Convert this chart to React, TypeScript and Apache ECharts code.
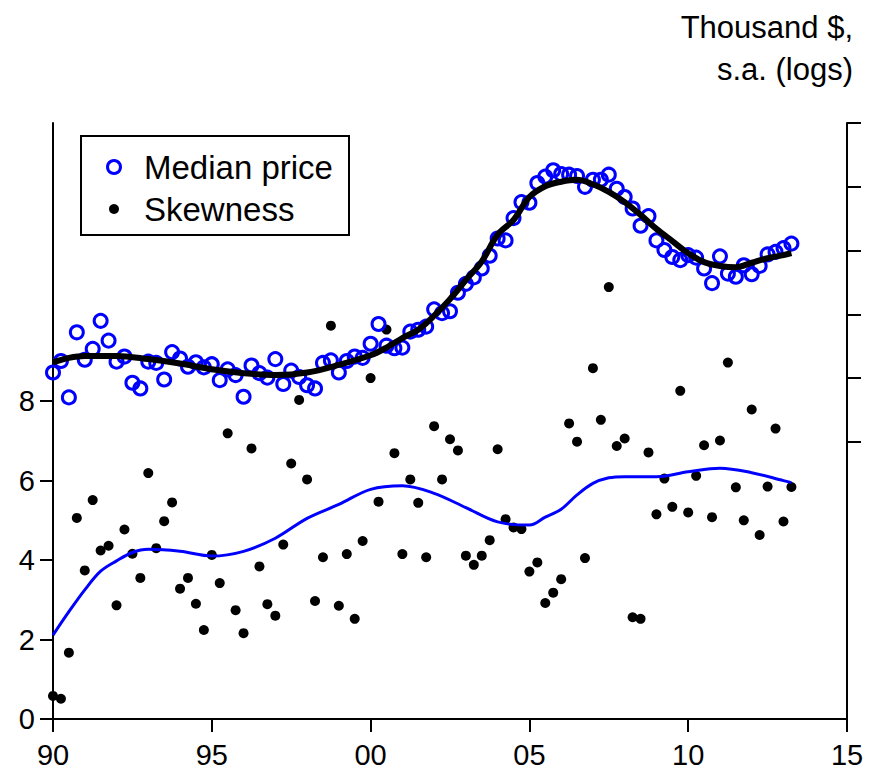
import React, { useEffect, useRef } from "react";
import * as echarts from "echarts";

const FONT = '"Liberation Sans", Arial, Helvetica, sans-serif';

// Quarterly observations, 1990Q1 .. 2013Q2
const START_YEAR = 1990;
const QUARTER_COUNT = 94;
const quarters: number[] = Array.from({ length: QUARTER_COUNT }, (_, i) => START_YEAR + i * 0.25);

// Median house price, thousand $, seasonally adjusted (logs) – right axis
const medianPrice: number[] = [
  5.209, 5.227, 5.170, 5.272, 5.229, 5.246, 5.290, 5.259, 5.226, 5.234,
  5.193, 5.184, 5.226, 5.224, 5.198, 5.241, 5.231, 5.218, 5.225, 5.217,
  5.222, 5.197, 5.214, 5.205, 5.171, 5.220, 5.208, 5.201, 5.230, 5.191,
  5.212, 5.202, 5.189, 5.184, 5.224, 5.228, 5.209, 5.227, 5.234, 5.232,
  5.254, 5.285, 5.251, 5.247, 5.248, 5.273, 5.276, 5.281, 5.308, 5.302,
  5.305, 5.334, 5.348, 5.358, 5.372, 5.392, 5.419, 5.416, 5.451, 5.476,
  5.475, 5.506, 5.516, 5.526, 5.520, 5.519, 5.517, 5.500, 5.511, 5.511,
  5.519, 5.497, 5.484, 5.466, 5.439, 5.454, 5.416, 5.401, 5.390, 5.385,
  5.393, 5.389, 5.372, 5.349, 5.391, 5.364, 5.359, 5.377, 5.363, 5.376,
  5.394, 5.398, 5.404, 5.411,
];

// Skewness of the price distribution – left axis
const skewness: number[] = [
  0.58, 0.51, 1.67, 5.06, 3.74, 5.51, 4.24, 4.36, 2.86, 4.77,
  4.16, 3.55, 6.19, 4.30, 4.98, 5.45, 3.28, 3.55, 2.90, 2.24,
  4.13, 3.42, 7.19, 2.74, 2.16, 6.81, 3.84, 2.89, 2.60, 4.39,
  6.43, 8.03, 6.03, 2.97, 4.07, 9.90, 2.85, 4.15, 2.52, 4.48,
  8.58, 5.47, 9.80, 6.69, 4.15, 6.03, 5.44, 4.07, 7.37, 6.03,
  7.04, 6.76, 4.11, 3.88, 4.11, 4.50, 6.79, 5.03, 4.82, 4.78,
  3.71, 3.94, 2.92, 3.18, 3.52, 7.44, 6.98, 4.05, 8.83, 7.53,
  10.87, 6.87, 7.06, 2.56, 2.52, 6.71, 5.15, 6.05, 5.34, 8.26,
  5.20, 6.12, 6.89, 5.08, 7.01, 8.97, 5.83, 5.00, 7.79, 4.63,
  5.85, 7.31, 4.97, 5.84,
];

// Smoothed trend of the median price (logs)
const priceTrendYears: number[] = [
  1990, 1990.5, 1991, 1992, 1993, 1994, 1995, 1996, 1997, 1998, 1999, 2000,
  2000.5, 2001, 2001.5, 2002, 2002.5, 2003, 2003.5, 2004, 2004.5, 2005, 2005.5,
  2006, 2006.5, 2007, 2007.5, 2008, 2008.5, 2009, 2009.5, 2010, 2010.5, 2011,
  2011.5, 2012, 2012.5, 2013, 2013.25,
];
const priceTrend: number[] = [
  5.225, 5.232, 5.235, 5.235, 5.230, 5.223, 5.214, 5.208, 5.205, 5.209, 5.221, 5.236,
  5.248, 5.263, 5.276, 5.298, 5.324, 5.354, 5.383, 5.425, 5.448, 5.484, 5.501,
  5.508, 5.511, 5.504, 5.492, 5.476, 5.456, 5.434, 5.415, 5.396, 5.382, 5.376,
  5.374, 5.381, 5.388, 5.393, 5.396,
];

// Smoothed trend of the skewness
const skewTrendYears: number[] = [
  1990, 1990.5, 1991, 1991.5, 1992, 1992.5, 1993, 1994, 1995, 1996, 1997, 1998,
  1999, 2000, 2001, 2002, 2003, 2004, 2005, 2005.5, 2006, 2006.5, 2007, 2007.5,
  2008, 2009, 2010, 2011, 2012, 2013, 2013.25,
];
const skewTrend: number[] = [
  2.11, 2.70, 3.25, 3.72, 3.98, 4.19, 4.27, 4.22, 4.10, 4.22, 4.55, 5.05,
  5.40, 5.78, 5.87, 5.68, 5.32, 4.96, 4.88, 5.08, 5.28, 5.64, 5.93, 6.07,
  6.10, 6.10, 6.22, 6.31, 6.20, 6.00, 5.95,
];

// Axis ticks and labels
const xTickLabels: string[] = ["90", "95", "00", "05", "10", "15"];
const leftTicks: number[] = [0, 2, 4, 6, 8];
const rightTicks: number[] = [5.1, 5.2, 5.3, 5.4, 5.5, 5.6];
const unitLines: string[] = ["Thousand $,", "s.a. (logs)"];

const BLUE = "#0000ff";
const BLACK = "#000000";

export default function App() {
  const ref = useRef<HTMLDivElement>(null);

  useEffect(() => {
    if (!ref.current) return;
    const chart = echarts.init(ref.current, undefined, { renderer: "svg" });

    const axisLine = { show: true, lineStyle: { color: BLACK, width: 2 } };

    chart.setOption({
      animation: false,
      backgroundColor: "#ffffff",
      textStyle: { fontFamily: FONT },
      grid: { left: 53, right: 22, top: 123, bottom: 53, containLabel: false, outerBoundsMode: "none" },
      xAxis: {
        type: "value",
        min: 1990,
        max: 2015,
        interval: 5,
        axisLine,
        axisTick: { show: true, inside: false, length: 13, lineStyle: { color: BLACK, width: 2 } },
        axisLabel: {
          color: BLACK,
          fontSize: 29,
          fontFamily: FONT,
          margin: 21,
          formatter: (v: number) => xTickLabels[Math.round((v - 1990) / 5)] ?? "",
        },
        splitLine: { show: false },
      },
      yAxis: [
        {
          type: "value",
          position: "left",
          min: 0,
          max: 15,
          axisLine,
          axisTick: {
            show: true,
            inside: false,
            length: 13,
            customValues: leftTicks,
            lineStyle: { color: BLACK, width: 2 },
          },
          axisLabel: {
            color: BLACK,
            fontSize: 29,
            fontFamily: FONT,
            margin: 18,
            customValues: leftTicks,
          },
          splitLine: { show: false },
        },
        {
          type: "value",
          position: "right",
          min: 4.666,
          max: 5.6,
          axisLine,
          axisTick: {
            show: true,
            inside: false,
            length: 14,
            customValues: rightTicks,
            lineStyle: { color: BLACK, width: 2 },
          },
          axisLabel: { show: false },
          splitLine: { show: false },
        },
      ],
      graphic: [
        ...unitLines.map((line, i) => ({
          type: "text",
          right: 16,
          top: 12 + i * 42,
          style: {
            text: line,
            fontSize: 31,
            fontFamily: FONT,
            fill: BLACK,
          },
        })),
        {
          type: "group",
          left: 80,
          top: 135,
          children: [
            {
              type: "rect",
              shape: { x: 0, y: 0, width: 268, height: 99 },
              style: { fill: "#ffffff", stroke: BLACK, lineWidth: 2 },
            },
            {
              type: "circle",
              shape: { cx: 33, cy: 31, r: 6.5 },
              style: { fill: "none", stroke: BLUE, lineWidth: 3 },
            },
            {
              type: "text",
              x: 63,
              y: 31,
              style: {
                text: "Median price",
                fontSize: 33,
                fontFamily: FONT,
                fill: BLACK,
                verticalAlign: "middle",
              },
            },
            {
              type: "circle",
              shape: { cx: 33, cy: 73, r: 5 },
              style: { fill: BLACK },
            },
            {
              type: "text",
              x: 63,
              y: 73,
              style: {
                text: "Skewness",
                fontSize: 33,
                fontFamily: FONT,
                fill: BLACK,
                verticalAlign: "middle",
              },
            },
          ],
        },
      ],
      series: [
        {
          name: "Skewness",
          type: "scatter",
          yAxisIndex: 0,
          symbol: "circle",
          symbolSize: 10,
          itemStyle: { color: BLACK, opacity: 1 },
          data: quarters.map((q, i) => [q, skewness[i]]),
          z: 2,
        },
        {
          name: "Skewness trend",
          type: "line",
          yAxisIndex: 0,
          smooth: 0.35,
          showSymbol: false,
          lineStyle: { color: BLUE, width: 3 },
          data: skewTrendYears.map((y, i) => [y, skewTrend[i]]),
          z: 3,
        },
        {
          name: "Median price",
          type: "scatter",
          yAxisIndex: 1,
          symbol: "circle",
          symbolSize: 13,
          itemStyle: { color: "rgba(0,0,0,0)", borderColor: BLUE, borderWidth: 3, opacity: 1 },
          data: quarters.map((q, i) => [q, medianPrice[i]]),
          z: 4,
        },
        {
          name: "Median price trend",
          type: "line",
          yAxisIndex: 1,
          smooth: 0.35,
          showSymbol: false,
          lineStyle: { color: BLACK, width: 6 },
          data: priceTrendYears.map((y, i) => [y, priceTrend[i]]),
          z: 5,
        },
      ],
    });

    return () => chart.dispose();
  }, []);

  return (
    <div
      ref={ref}
      style={{ position: "fixed", left: 0, top: 0, width: 869, height: 772, background: "#fff" }}
    />
  );
}
